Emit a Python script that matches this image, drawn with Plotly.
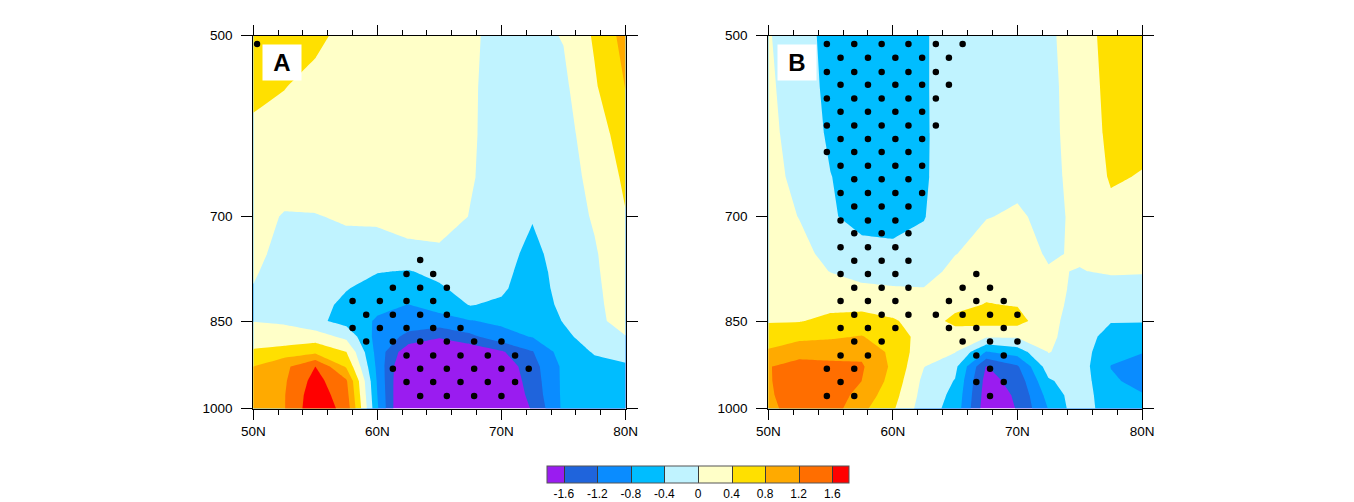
import math
import plotly.graph_objects as go

# ---------------- data ----------------
LATS = [50, 52.5, 55, 57.5, 60, 62.5, 65, 67.5, 70, 72.5, 75, 77.5, 80]
LEVELS = [500, 550, 600, 650, 700, 750, 775, 800, 825, 850, 875, 900, 925, 950, 975, 1000]

# Panel A: one list per latitude (values at LEVELS, top -> bottom)
A_COLS = [
    [0.7, 0.5, 0.32, 0.3, 0.15, 0.08, 0.03, -0.01, -0.05, -0.01, 0.2, 0.45, 0.8, 0.9, 0.95, 1.0],
    [0.6, 0.41, 0.28, 0.2, -0.03, -0.1, -0.12, -0.12, -0.12, -0.03, 0.1, 0.6, 1.1, 1.15, 1.18, 1.18],
    [0.48, 0.3, 0.25, 0.22, -0.02, -0.1, -0.12, -0.2, -0.25, -0.3, 0.2, 0.7, 1.6, 1.75, 1.85, 1.9],
    [0.3, 0.25, 0.22, 0.2, 0.05, -0.15, -0.25, -0.38, -0.5, -0.55, -0.1, 0.4, 0.75, 1.25, 1.35, 1.45],
    [0.25, 0.2, 0.2, 0.18, 0.08, -0.2, -0.38, -0.55, -0.7, -0.85, -0.95, -0.95, -0.9, -0.85, -0.8, -0.75],
    [0.2, 0.18, 0.18, 0.15, 0.12, -0.08, -0.42, -0.62, -0.81, -1.0, -1.3, -1.9, -2.2, -2.3, -2.35, -2.4],
    [0.15, 0.12, 0.12, 0.1, 0.12, -0.05, -0.3, -0.45, -0.65, -0.95, -1.55, -2.0, -2.2, -2.3, -2.4, -2.4],
    [0.05, 0.04, 0.03, 0.02, -0.01, -0.1, -0.15, -0.25, -0.38, -0.82, -1.3, -1.9, -2.2, -2.3, -2.35, -2.4],
    [-0.1, -0.12, -0.1, -0.1, -0.15, -0.12, -0.2, -0.3, -0.5, -0.72, -0.95, -1.65, -1.9, -2.0, -2.1, -2.2],
    [-0.1, -0.15, -0.15, -0.15, -0.35, -0.6, -0.7, -0.75, -0.65, -0.7, -0.78, -1.22, -1.35, -1.4, -1.45, -1.55],
    [0.02, -0.08, -0.1, -0.12, -0.15, -0.05, -0.1, -0.15, -0.3, -0.38, -0.5, -0.6, -0.72, -0.72, -0.72, -0.72],
    [0.45, 0.35, 0.15, 0.08, 0.03, -0.03, -0.04, -0.05, -0.06, -0.08, -0.2, -0.37, -0.5, -0.6, -0.6, -0.6],
    [0.95, 0.81, 0.65, 0.48, 0.38, 0.22, 0.18, 0.15, 0.13, 0.12, -0.01, -0.25, -0.45, -0.55, -0.55, -0.55],
]

# Panel B
B_COLS = [
    [0.02, 0.04, 0.06, 0.1, 0.15, 0.2, 0.22, 0.25, 0.3, 0.37, 0.6, 0.85, 1.18, 1.17, 1.15, 1.12],
    [-0.15, -0.12, -0.1, -0.08, -0.01, 0.1, 0.15, 0.2, 0.3, 0.38, 0.7, 1.05, 1.35, 1.4, 1.4, 1.35],
    [-0.6, -0.55, -0.48, -0.39, -0.35, -0.1, -0.01, 0.15, 0.3, 0.5, 0.75, 1.05, 1.3, 1.4, 1.45, 1.4],
    [-0.6, -0.6, -0.6, -0.58, -0.55, -0.25, -0.1, 0.05, 0.3, 0.55, 0.82, 1.1, 1.25, 1.2, 1.05, 0.9],
    [-0.65, -0.65, -0.62, -0.6, -0.55, -0.3, -0.12, 0.02, 0.2, 0.45, 0.6, 0.7, 0.72, 0.65, 0.55, 0.45],
    [-0.43, -0.43, -0.44, -0.45, -0.42, -0.25, -0.15, 0.01, 0.12, 0.2, 0.25, 0.15, 0.01, -0.1, -0.15, -0.21],
    [-0.25, -0.25, -0.22, -0.15, -0.08, -0.01, 0.1, 0.2, 0.3, 0.5, 0.2, 0.02, -0.3, -0.42, -0.5, -0.55],
    [-0.15, -0.15, -0.12, -0.08, -0.01, 0.12, 0.2, 0.3, 0.42, 0.55, 0.05, -0.82, -1.62, -1.75, -1.8, -1.85],
    [-0.12, -0.12, -0.1, -0.06, 0.03, 0.12, 0.2, 0.28, 0.38, 0.55, 0.05, -0.6, -1.25, -1.45, -1.55, -1.58],
    [-0.05, -0.06, -0.07, -0.08, -0.06, -0.03, 0.02, 0.06, 0.1, 0.12, 0.08, 0.02, -0.2, -0.45, -0.65, -0.78],
    [0.15, 0.12, 0.12, 0.1, 0.05, 0.03, -0.01, -0.04, -0.1, -0.2, -0.2, -0.2, -0.2, -0.18, -0.15, -0.13],
    [0.6, 0.55, 0.5, 0.44, 0.3, 0.1, 0.03, -0.1, -0.25, -0.38, -0.55, -0.7, -0.81, -0.75, -0.7, -0.67],
    [0.7, 0.6, 0.5, 0.38, 0.25, 0.1, 0.02, -0.1, -0.25, -0.38, -0.6, -0.78, -0.95, -0.9, -0.78, -0.7],
]

# Significance stippling: pressure of each dot row and latitudes of the dots in it
A_DOT_P = [508, 759, 779, 799, 819, 840, 861, 883, 906, 929, 952, 977]
A_DOT_LATS = [
    [50.3],
    [63.45],
    [62.35, 64.5],
    [61.25, 63.45, 65.6],
    [58.0, 60.2, 62.35, 64.5],
    [59.1, 61.25, 63.45, 65.6],
    [58.0, 60.2, 62.35, 64.5, 66.7],
    [59.1, 61.25, 63.45, 65.6, 67.8, 70.0],
    [62.35, 64.5, 66.7, 68.9, 71.1],
    [61.25, 63.45, 65.6, 67.8, 70.0, 72.2],
    [62.35, 64.5, 66.7, 68.9, 71.1],
    [63.45, 65.6, 67.8, 70.0],
]

B_DOT_P = [508, 521, 535, 548, 562, 576, 591, 606, 621, 637, 653, 670, 687, 705,
           722, 741, 760, 779, 799, 819, 840, 861, 883, 906, 929, 952, 977]
B_DOT_LATS = [
    [54.7, 56.9, 59.1, 61.25, 63.45, 65.6],
    [55.8, 58.0, 60.2, 62.35, 64.5],
    [54.7, 56.9, 59.1, 61.25, 63.45],
    [55.8, 58.0, 60.2, 62.35, 64.5],
    [54.7, 56.9, 59.1, 61.25, 63.45],
    [55.8, 58.0, 60.2, 62.35],
    [54.7, 56.9, 59.1, 61.25, 63.45],
    [55.8, 58.0, 60.2, 62.35],
    [54.7, 56.9, 59.1, 61.25],
    [55.8, 58.0, 60.2, 62.35],
    [56.9, 59.1, 61.25],
    [55.8, 58.0, 60.2, 62.35],
    [56.9, 59.1, 61.25],
    [55.8, 58.0, 60.2],
    [56.9, 59.1, 61.25],
    [55.8, 58.0, 60.2],
    [56.9, 59.1, 61.25],
    [55.8, 58.0, 60.2, 66.7],
    [56.9, 59.1, 61.25, 65.6, 67.8],
    [55.8, 58.0, 60.2, 64.5, 66.7, 68.9],
    [56.9, 59.1, 61.25, 63.45, 65.6, 67.8, 70.0],
    [55.8, 58.0, 60.2, 64.5, 66.7, 68.9],
    [56.9, 59.1, 65.6, 67.8, 70.0],
    [55.8, 58.0, 66.7, 68.9],
    [54.7, 56.9, 67.8],
    [55.8, 66.7, 68.9],
    [54.7, 56.9, 67.8],
]

X_TICKS = [50, 60, 70, 80]
X_LABELS = ["50N", "60N", "70N", "80N"]
Y_TICKS = [500, 700, 850, 1000]
Y_LABELS = ["500", "700", "850", "1000"]
CB_TICKS = [-1.6, -1.2, -0.8, -0.4, 0, 0.4, 0.8, 1.2, 1.6]
CB_LABELS = ["-1.6", "-1.2", "-0.8", "-0.4", "0", "0.4", "0.8", "1.2", "1.6"]
PANEL_LABELS = ["A", "B"]

COLORS = ["#9a1cf0", "#1f64dc", "#0a8cff", "#00bdff", "#c0f3ff",
          "#ffffc8", "#ffe000", "#ffaa00", "#ff6e00", "#ff0000"]

# ---------------- helpers ----------------
def to_rows(cols):
    return [[cols[i][j] for i in range(len(cols))] for j in range(len(cols[0]))]


def flatten(ps, lat_rows):
    xs, ys = [], []
    for p, lats in zip(ps, lat_rows):
        for la in lats:
            xs.append(la)
            ys.append(p)
    return xs, ys


n = len(COLORS)
colorscale = []
for i, c in enumerate(COLORS):
    lo = max(0.0, (i - 0.5) / (n - 1))
    hi = min(1.0, (i + 0.5) / (n - 1))
    colorscale.append([lo, c])
    colorscale.append([hi, c])

contours = dict(start=-1.6, end=1.6, size=0.4, coloring="fill", showlines=False)

# The page body has an 8 px margin, so the figure is sized to fill the rest of the window
OFF = 8
W, H = 1354 - OFF, 502 - OFF
FONT = "Liberation Sans, Arial, Helvetica, sans-serif"


def fx(px):
    return (px - OFF) / W


def fy(py):
    return 1 - (py - OFF) / H


fig = go.Figure()

panels = [("x", "y", A_COLS, A_DOT_P, A_DOT_LATS), ("x2", "y2", B_COLS, B_DOT_P, B_DOT_LATS)]
for xa, ya, cols, dp, dl in panels:
    fig.add_trace(go.Contour(
        x=LATS, y=LEVELS, z=to_rows(cols), xaxis=xa, yaxis=ya,
        contours=contours, colorscale=colorscale, showscale=False,
        line=dict(width=0, smoothing=0), hoverinfo="skip"))
    dx, dy = flatten(dp, dl)
    fig.add_trace(go.Scatter(
        x=dx, y=dy, xaxis=xa, yaxis=ya, mode="markers",
        marker=dict(size=6.5, color="black"), hoverinfo="skip", showlegend=False))

# colour bar (from a clipped, off-range contour so the separators can be drawn)
fig.add_trace(go.Contour(
    x=[0, 1], y=[100, 110], z=[[-2, 2], [-2, 2]], xaxis="x", yaxis="y",
    contours=dict(start=-1.6, end=1.6, size=0.4, coloring="fill", showlines=True),
    colorscale=colorscale, line=dict(width=1, color="#3a3a3a"), hoverinfo="skip",
    showscale=True,
    colorbar=dict(orientation="h", x=fx(698), xanchor="center", y=fy(466), yanchor="top",
                  len=302, lenmode="pixels", thickness=17, thicknessmode="pixels",
                  xpad=0, ypad=0, outlinecolor="#555555", outlinewidth=1,
                  tickvals=CB_TICKS, ticktext=CB_LABELS, ticks="",
                  tickfont=dict(family=FONT, size=12, color="black"))))

ydom = [fy(408.5), fy(35.5)]
xdoms = [[fx(253.3), fx(625.5)], [fx(768.3), fx(1142)]]


def xaxis_cfg(dom, anchor):
    return dict(domain=dom, anchor=anchor, range=[50, 80], tickvals=X_TICKS, ticktext=X_LABELS,
                ticks="outside", ticklen=10, tickwidth=1, tickcolor="black",
                showline=True, linecolor="black", linewidth=1, mirror="ticks",
                showgrid=False, zeroline=False, automargin=False,
                minor=dict(dtick=2, tick0=50, ticks="outside", ticklen=5, tickwidth=1, tickcolor="black"),
                tickfont=dict(family=FONT, size=13.5, color="black"))


def yaxis_cfg(anchor):
    return dict(domain=ydom, anchor=anchor, type="log", range=[3, math.log10(500)],
                tickvals=Y_TICKS, ticktext=Y_LABELS,
                ticks="outside", ticklen=11, tickwidth=1, tickcolor="black",
                showline=True, linecolor="black", linewidth=1, mirror="ticks",
                showgrid=False, zeroline=False, automargin=False, ticklabelstandoff=6,
                tickfont=dict(family=FONT, size=13.5, color="black"))


annotations = []
for k, (xr, yr) in enumerate([("x domain", "y domain"), ("x2 domain", "y2 domain")]):
    annotations.append(dict(
        x=0.076, y=0.928, xref=xr, yref=yr, text="<b>%s</b>" % PANEL_LABELS[k],
        showarrow=False, bgcolor="white", width=38, height=35, borderpad=0,
        xanchor="center", yanchor="middle",
        font=dict(family=FONT, size=24, color="black")))

fig.update_layout(
    width=W, height=H, margin=dict(l=0, r=0, t=0, b=0, pad=0, autoexpand=False),
    paper_bgcolor="white", plot_bgcolor="white", showlegend=False,
    xaxis=xaxis_cfg(xdoms[0], "y"), yaxis=yaxis_cfg("x"),
    xaxis2=xaxis_cfg(xdoms[1], "y2"), yaxis2=yaxis_cfg("x2"),
    annotations=annotations,
)

fig.write_html("out.html")
